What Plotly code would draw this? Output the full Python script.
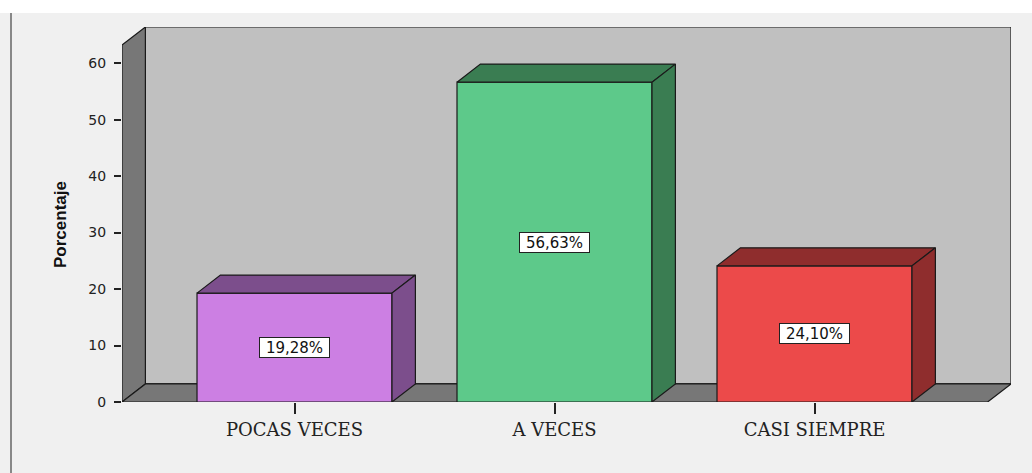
import plotly.graph_objects as go

# ---- data ----
categories = ["POCAS VECES", "A VECES", "CASI SIEMPRE"]
percentages = [19.28, 56.63, 24.10]
value_labels = ["19,28%", "56,63%", "24,10%"]
front_colors = ["#CC7FE3", "#5DC98A", "#EC4A4A"]
shade_colors = ["#7C4E8C", "#3A7D52", "#8F2D2D"]
y_ticks = [0, 10, 20, 30, 40, 50, 60]

# ---- geometry (in axis units) ----
BAR_HALF = 0.375
DX = 0.09
DY = 3.2
X_LEFT = -0.6635
X_RIGHT = 2.7558
WALL_TOP = 63.2
Y_MAX = WALL_TOP + DY

fig = go.Figure()


def poly(xs, ys, color, name):
    fig.add_trace(go.Scatter(
        x=xs + [xs[0]], y=ys + [ys[0]], mode="lines", fill="toself",
        fillcolor=color, line=dict(color="#1a1a1a", width=1.2),
        hoverinfo="skip", showlegend=False, name=name))


# back wall
poly([X_LEFT + DX, X_RIGHT, X_RIGHT, X_LEFT + DX],
     [DY, DY, Y_MAX, Y_MAX], "#C0C0C0", "back")
# side wall
poly([X_LEFT, X_LEFT + DX, X_LEFT + DX, X_LEFT],
     [0, DY, Y_MAX, WALL_TOP], "#777777", "side")
# floor
poly([X_LEFT, X_RIGHT - DX, X_RIGHT, X_LEFT + DX],
     [0, 0, DY, DY], "#777777", "floor")

# bars
for i, (cat, v) in enumerate(zip(categories, percentages)):
    x0, x1 = i - BAR_HALF, i + BAR_HALF
    poly([x0, x1, x1, x0], [0, 0, v, v], front_colors[i], cat)
    poly([x0, x1, x1 + DX, x0 + DX], [v, v, v + DY, v + DY], shade_colors[i], cat)
    poly([x1, x1 + DX, x1 + DX, x1], [0, DY, v + DY, v], shade_colors[i], cat)
    fig.add_annotation(
        x=i, y=v / 2, xref="x", yref="y", text=value_labels[i], showarrow=False,
        font=dict(family="DejaVu Sans", size=15, color="#111111"),
        bgcolor="#FFFFFF", bordercolor="#222222", borderwidth=1, borderpad=1,
        width=67, height=17)

fig.update_layout(
    width=1032, height=473,
    margin=dict(l=122, r=21, t=27, b=71),
    paper_bgcolor="#F0F0F0", plot_bgcolor="rgba(0,0,0,0)",
    showlegend=False,
    xaxis=dict(range=[X_LEFT, X_RIGHT], tickvals=list(range(len(categories))),
               ticktext=categories, showgrid=False, zeroline=False, showline=False,
               ticks="outside", ticklen=11, tickcolor="#222222", tickwidth=1.5,
               ticklabelstandoff=0,
               tickfont=dict(family="DejaVu Serif", size=18, color="#222222"),
               fixedrange=True),
    yaxis=dict(range=[0, Y_MAX], tickvals=y_ticks, showgrid=False, zeroline=False,
               showline=False, ticks="outside", ticklen=7, tickcolor="#222222",
               tickwidth=1.5, ticklabelstandoff=5,
               tickfont=dict(family="DejaVu Sans", size=14, color="#222222"),
               fixedrange=True),
    shapes=[
        dict(type="rect", xref="paper", yref="paper", x0=-0.2, x1=1.1,
             y0=(402 - 13) / 375, y1=1.2, fillcolor="#FFFFFF", line=dict(width=0),
             layer="below"),
        dict(type="line", xref="paper", yref="paper", x0=(11 - 122) / 889,
             x1=(11 - 122) / 889, y0=(402 - 13) / 375, y1=-0.3,
             line=dict(color="#888888", width=2)),
    ],
)

fig.add_annotation(
    text="<b>Porcentaje</b>", xref="paper", yref="paper",
    x=(60 - 122) / 889, y=(402 - 224) / 375, xanchor="center", yanchor="middle",
    showarrow=False, textangle=-90,
    font=dict(family="Liberation Sans", size=17, color="#111111"))

fig.write_html("out.html", config={"displayModeBar": False},
               post_script="document.body.style.margin='0';")
